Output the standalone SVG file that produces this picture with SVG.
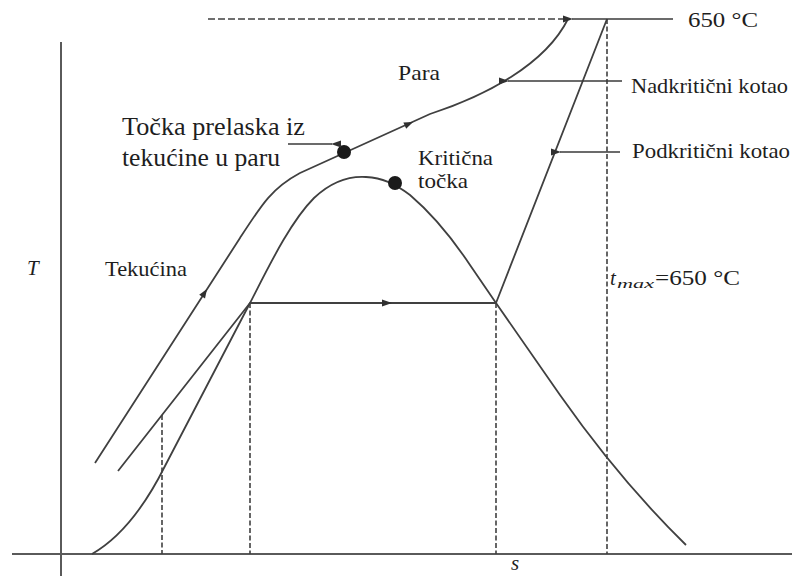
<svg xmlns="http://www.w3.org/2000/svg" width="792" height="576" viewBox="0 0 792 576">
<defs>
<style>
.ax{stroke:#5a5a5a;stroke-width:2;fill:none}
.cv{stroke:#404040;stroke-width:1.8;fill:none;stroke-linejoin:round}
.ds{stroke:#404040;stroke-width:1.6;fill:none;stroke-dasharray:5,2.5}
.dh{stroke:#404040;stroke-width:1.6;fill:none;stroke-dasharray:7,3}
.pt{stroke:#3a3a3a;stroke-width:1.6;fill:none}
text{font-family:"Liberation Serif",Tinos,"Times New Roman","DejaVu Serif",serif;fill:#1e1e1e;font-size:21px}
.big{font-size:26px}
.it{font-style:italic}
.ah{fill:#303030}
</style>
<marker id="arr" viewBox="0 0 10 8" refX="1" refY="4" markerWidth="10" markerHeight="8" markerUnits="userSpaceOnUse" orient="auto-start-reverse">
<path d="M0,4 L10,0.5 L10,7.5 Z" fill="#303030"/>
</marker>
</defs>
<rect width="792" height="576" fill="#ffffff"/>

<g id="axes">
<line class="ax" x1="61" y1="42" x2="61" y2="576"/>
<line class="ax" x1="12" y1="554" x2="792" y2="554"/>
</g>

<g id="guides">
<line class="dh" x1="208" y1="19" x2="570" y2="19"/>
<line class="ds" x1="607" y1="19" x2="607" y2="554"/>
<line class="ds" x1="496" y1="303" x2="496" y2="554"/>
<line class="ds" x1="250" y1="303" x2="250" y2="554"/>
<line class="ds" x1="162" y1="415" x2="162" y2="554"/>
</g>

<g id="connectors">
<path id="dome" class="cv" d="M92,554 C125,535 148,500 165,466 L250,303 C268,268 290,222 314,198 C332,181 350,176 366,177 C382,178 394,183 410,195 C430,212 450,235 470,265 L496,303 L560,395 C600,452 640,500 686,545"/>
<path id="supercritical" class="cv" d="M95,463 L240,238 C262,204 272,188 300,173 L430,114 C485,96 545,65 568,19"/>
<path id="subcritical" class="cv" d="M118,471 L250,303 L496,303 L607,19"/>
<polygon class="ah" points="0,0 -9,-3.5 -9,3.5" transform="translate(207,289) rotate(-57)"/>
<polygon class="ah" points="0,0 -9,-3.5 -9,3.5" transform="translate(413,122) rotate(-24)"/>
<polygon class="ah" points="0,0 -10,-3.5 -10,3.5" transform="translate(392,303)"/>
</g>

<g id="points">
<circle cx="344" cy="152" r="7" fill="#1a1a1a"/>
<circle cx="395" cy="183" r="7" fill="#1a1a1a"/>
</g>

<g id="pointers">
<line class="pt" x1="288" y1="144" x2="332" y2="144" marker-end="url(#arr)"/>
<line class="pt" x1="622" y1="81" x2="508" y2="81" marker-end="url(#arr)"/>
<line class="pt" x1="620" y1="152" x2="560" y2="152" marker-end="url(#arr)"/>
<line class="pt" x1="673" y1="19" x2="572" y2="19" marker-end="url(#arr)"/>
</g>

<g id="labels">
<text class="big" x="122" y="135" textLength="183" lengthAdjust="spacingAndGlyphs">Točka prelaska iz</text>
<text class="big" x="122" y="166" textLength="158" lengthAdjust="spacingAndGlyphs">tekućine u paru</text>
<text x="398" y="80" textLength="42" lengthAdjust="spacingAndGlyphs">Para</text>
<text x="418" y="165" textLength="75" lengthAdjust="spacingAndGlyphs">Kritična</text>
<text x="418" y="188" textLength="50" lengthAdjust="spacingAndGlyphs">točka</text>
<text x="105" y="276" textLength="82" lengthAdjust="spacingAndGlyphs">Tekućina</text>
<text x="631" y="93" textLength="157" lengthAdjust="spacingAndGlyphs">Nadkritični kotao</text>
<text x="632" y="158" textLength="158" lengthAdjust="spacingAndGlyphs">Podkritični kotao</text>
<text x="688" y="27" textLength="70" lengthAdjust="spacingAndGlyphs">650 °C</text>
<text class="it" x="27" y="275">T</text>
<text class="it" x="511" y="570">s</text>
<text class="it" x="610" y="285">t</text>
<text class="it" x="617" y="288" style="font-size:13px" textLength="37" lengthAdjust="spacingAndGlyphs">max</text>
<text x="655" y="285" textLength="85" lengthAdjust="spacingAndGlyphs">=650 °C</text>
</g>
</svg>
